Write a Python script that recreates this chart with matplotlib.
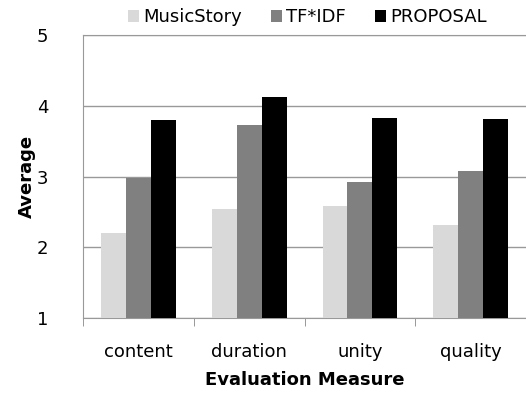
import numpy as np
import matplotlib.pyplot as plt

categories = ["content", "duration", "unity", "quality"]
music_story = [2.20, 2.54, 2.58, 2.31]
tf_idf = [2.98, 3.73, 2.92, 3.08]
proposal = [3.80, 4.12, 3.83, 3.81]

series = [
    ("MusicStory", music_story, "#d9d9d9"),
    ("TF*IDF", tf_idf, "#808080"),
    ("PROPOSAL", proposal, "#000000"),
]

fig = plt.figure(figsize=(5.26, 3.94), dpi=100)
ax = fig.add_axes([0.158, 0.193, 0.842, 0.718])

x = np.arange(len(categories))
width = 0.225
for i, (name, vals, color) in enumerate(series):
    ax.bar(x + (i - 1) * width, vals, width, bottom=0, color=color,
           label=name, zorder=3)

ax.set_ylim(1, 5)
ax.set_yticks([1, 2, 3, 4, 5])
ax.set_xlim(-0.5, len(categories) - 0.5)
ax.set_xticks(x)
ax.set_xticklabels(categories)
ax.set_xticks(np.arange(len(categories) + 1) - 0.5, minor=True)
ax.tick_params(axis="x", which="major", length=0, pad=18, labelsize=13)
ax.tick_params(axis="x", which="minor", length=6, color="#888888")
ax.tick_params(axis="y", length=0, pad=25, labelsize=13)

ax.grid(axis="y", color="#999999", linewidth=1, zorder=0)
for side in ["left", "bottom", "top"]:
    ax.spines[side].set_color("#999999")
ax.spines["right"].set_visible(False)

ax.set_xlabel("Evaluation Measure", fontsize=13, fontweight="bold", labelpad=7)
ax.set_ylabel("Average", fontsize=13, fontweight="bold", labelpad=1)

ax.legend(loc="lower center", bbox_to_anchor=(0.506, 1.005), ncol=3,
          frameon=False, fontsize=13, handlelength=0.6, handleheight=0.6,
          handletextpad=0.25, columnspacing=1.6, borderaxespad=0)

fig.savefig("out.png", dpi=100)
